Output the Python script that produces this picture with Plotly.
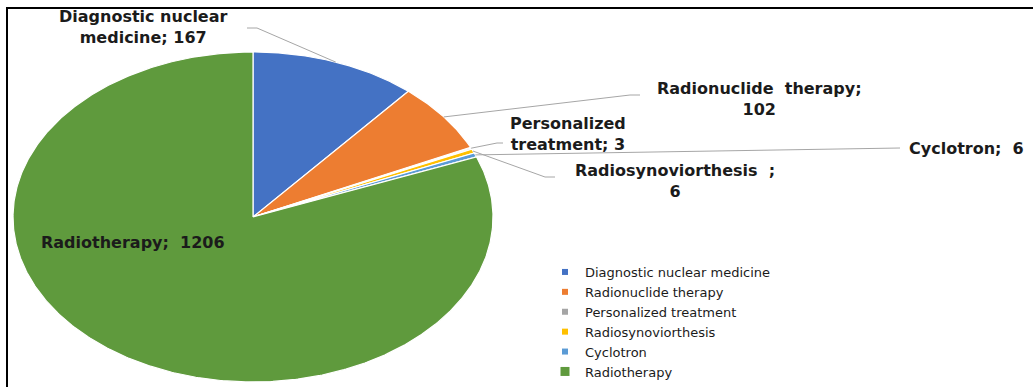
import numpy as np
import plotly.graph_objects as go

# Procedures by type
categories = [
    "Diagnostic nuclear medicine",
    "Radionuclide therapy",
    "Personalized treatment",
    "Radiosynoviorthesis",
    "Cyclotron",
    "Radiotherapy",
]
values = [167, 102, 3, 6, 6, 1206]
colors = ["#4472C4", "#ED7D31", "#A5A5A5", "#FFC000", "#5B9BD5", "#5F9A3D"]

# Slice label templates (value inserted below)
label_templates = [
    "Diagnostic nuclear<br>medicine; {}",
    "Radionuclide  therapy;<br>{}",
    "Personalized<br>treatment; {}",
    "Radiosynoviorthesis  ;<br>{}",
    "Cyclotron;  {}",
    "Radiotherapy;  {}",
]

W, H = 1033, 387
cx, cy, rx, ry = 253, 217, 240, 165   # pie centre and radii (pixel space)

# label centre positions and leader elbows (pixel space); None = no leader
label_pos = [(143, 27), (759, 99), (568, 134), (675, 181), (966, 148), (133, 242)]
leader_elbow = [
    [(257, 28), (247, 28)],
    [(630, 95), (640, 95)],
    [(497, 143), (503, 143)],
    [(545, 177), (555, 177)],
    [(900, 148)],
    None,
]

fig = go.Figure()

total = sum(values)
cum = 0.0
mids = []
for name, v, c in zip(categories, values, colors):
    a0 = cum / total * 2 * np.pi
    a1 = (cum + v) / total * 2 * np.pi
    cum += v
    mids.append((a0 + a1) / 2)
    n = max(3, int(np.degrees(a1 - a0) * 2)) + 1
    t = np.linspace(a0, a1, n)
    xs = np.concatenate([[cx], cx + rx * np.sin(t), [cx]])
    ys = np.concatenate([[cy], cy - ry * np.cos(t), [cy]])
    fig.add_trace(go.Scatter(
        x=xs, y=ys, mode="lines", fill="toself", fillcolor=c,
        line=dict(color="white", width=1.2), name=name,
        hoverinfo="text", text=f"{name}: {v}", showlegend=False,
    ))

# leader lines from slice mid-angle to label
lx, ly = [], []
for m, elbow in zip(mids, leader_elbow):
    if elbow is None:
        continue
    lx.append(cx + rx * np.sin(m))
    ly.append(cy - ry * np.cos(m))
    for ex, ey in elbow:
        lx.append(ex)
        ly.append(ey)
    lx.append(None)
    ly.append(None)
fig.add_trace(go.Scatter(x=lx, y=ly, mode="lines",
                         line=dict(color="#A6A6A6", width=1),
                         hoverinfo="skip", showlegend=False))

# legend entries
for i, (name, c) in enumerate(zip(categories, colors)):
    fig.add_trace(go.Scatter(
        x=[None], y=[None], mode="markers", name=name,
        marker=dict(symbol="square", size=9 if i == len(categories) - 1 else 6, color=c),
    ))

annotations = []
for tpl, v, (px, py) in zip(label_templates, values, label_pos):
    annotations.append(dict(
        x=px, y=py, xref="x", yref="y", showarrow=False,
        text="<b>" + tpl.format(v) + "</b>",
        font=dict(family="DejaVu Sans", size=16, color="#1b1b1b"),
        align="center", xanchor="center", yanchor="middle",
    ))

fig.update_layout(
    width=W, height=H,
    margin=dict(l=0, r=0, t=0, b=0),
    paper_bgcolor="white", plot_bgcolor="white",
    xaxis=dict(range=[0, W], visible=False, fixedrange=True),
    yaxis=dict(range=[H, 0], visible=False, fixedrange=True),
    annotations=annotations,
    shapes=[dict(type="rect", xref="x", yref="y", x0=7, y0=8, x1=W + 10, y1=H + 10,
                 line=dict(color="black", width=2), fillcolor="rgba(0,0,0,0)")],
    legend=dict(x=545 / W, y=0.0, xanchor="left", yanchor="bottom",
                font=dict(family="DejaVu Sans", size=13, color="#1b1b1b"),
                itemsizing="trace", tracegroupgap=0, bgcolor="rgba(0,0,0,0)"),
    showlegend=True,
)

fig.write_html("out.html")
